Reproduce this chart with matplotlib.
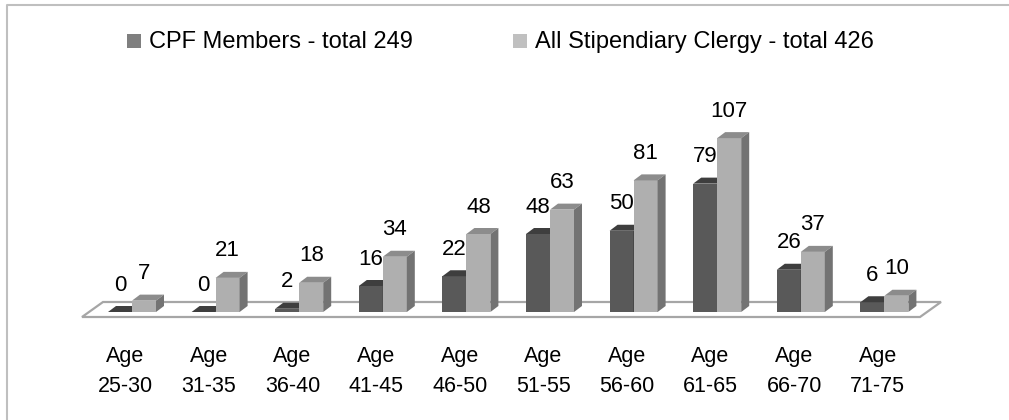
"""Clergy age profile - 3D-style clustered column chart."""
import matplotlib
matplotlib.use("Agg")
import matplotlib.pyplot as plt
from matplotlib.patches import Polygon, Rectangle
from matplotlib.lines import Line2D

plt.rcParams["font.family"] = ["Liberation Sans", "DejaVu Sans"]

# data
AGE_BANDS = ["25-30", "31-35", "36-40", "41-45", "46-50",
             "51-55", "56-60", "61-65", "66-70", "71-75"]
CPF_MEMBERS = [0, 0, 2, 16, 22, 48, 50, 79, 26, 6]
ALL_CLERGY = [7, 21, 18, 34, 48, 63, 81, 107, 37, 10]
SERIES_NAMES = ["CPF Members - total 249", "All Stipendiary Clergy - total 426"]

# (front, top, side) shading per series
DARK = ("#595959", "#3e3e3e", "#2f2f2f")
LIGHT = ("#afafaf", "#8c8c8c", "#737373")
LEGEND_COLORS = ["#7f7f7f", "#c0c0c0"]

W, H = 1009, 420
PX_X = 83.6     # pixels per category
PX_Y = 1.625    # pixels per unit value
X0_PX, Y0_PX = 132, 312

BAR_W = 24 / PX_X
DEPTH_X, DEPTH_Y = 8 / PX_X, 6 / PX_Y


def bar3d(ax, x0, v, colors):
    front, top, side = colors
    x1 = x0 + BAR_W
    ax.bar(x0, v, width=BAR_W, bottom=0, align="edge", color=front,
           linewidth=0, zorder=3)
    ax.add_patch(Polygon([(x0, v), (x1, v), (x1 + DEPTH_X, v + DEPTH_Y),
                          (x0 + DEPTH_X, v + DEPTH_Y)],
                         closed=True, fc=top, ec="none", zorder=3))
    ax.add_patch(Polygon([(x1, 0), (x1 + DEPTH_X, DEPTH_Y),
                          (x1 + DEPTH_X, v + DEPTH_Y), (x1, v)],
                         closed=True, fc=side, ec="none", zorder=3))


def main():
    fig = plt.figure(figsize=(W / 100, H / 100), dpi=100)
    fig.patch.set_facecolor("white")
    ax = fig.add_axes([0, 0, 1, 1])
    ax.set_xlim(-X0_PX / PX_X, (W - X0_PX) / PX_X)
    ax.set_ylim((Y0_PX - H) / PX_Y, Y0_PX / PX_Y)
    ax.axis("off")

    n = len(AGE_BANDS)

    # floor (front edge, back edge, slant)
    fy, by = -5 / PX_Y, 10 / PX_Y
    lx, rx, off = -50 / PX_X, (920 - X0_PX) / PX_X, 21 / PX_X
    ax.add_patch(Polygon([(lx, fy), (rx, fy), (rx + off, by), (lx + off, by)],
                         closed=True, fc="white", ec="#a6a6a6", lw=1.6, zorder=1))

    for i in range(n):
        bar3d(ax, i - BAR_W, CPF_MEMBERS[i], DARK)
        bar3d(ax, i, ALL_CLERGY[i], LIGHT)
        ax.text(i - BAR_W / 2, CPF_MEMBERS[i] + 16.6, str(CPF_MEMBERS[i]),
                ha="center", va="center", fontsize=16, color="black", zorder=5)
        ax.text(i + BAR_W / 2, ALL_CLERGY[i] + 16.6, str(ALL_CLERGY[i]),
                ha="center", va="center", fontsize=16, color="black", zorder=5)
        ax.text(i - 0.08, -36.5, f"Age\n{AGE_BANDS[i]}", ha="center", va="center",
                fontsize=15.5, linespacing=1.55, color="black")

    # legend
    for (sx, tx), name, col in zip([(127, 149), (513, 535)], SERIES_NAMES, LEGEND_COLORS):
        fig.add_artist(Rectangle((sx / W, 1 - 48 / H), 14 / W, 14 / H,
                                 transform=fig.transFigure, fc=col, ec="none"))
        fig.text(tx / W, 1 - 42 / H, name, ha="left", va="center", fontsize=17)

    # chart border (top and left visible)
    fig.add_artist(Line2D([7 / W, 7 / W, 1.0], [0.0, 1 - 5 / H, 1 - 5 / H],
                          transform=fig.transFigure, color="#bfbfbf", lw=1.5))

    fig.savefig("out.png", dpi=100, facecolor="white")
    plt.close(fig)


if __name__ == "__main__":
    main()
